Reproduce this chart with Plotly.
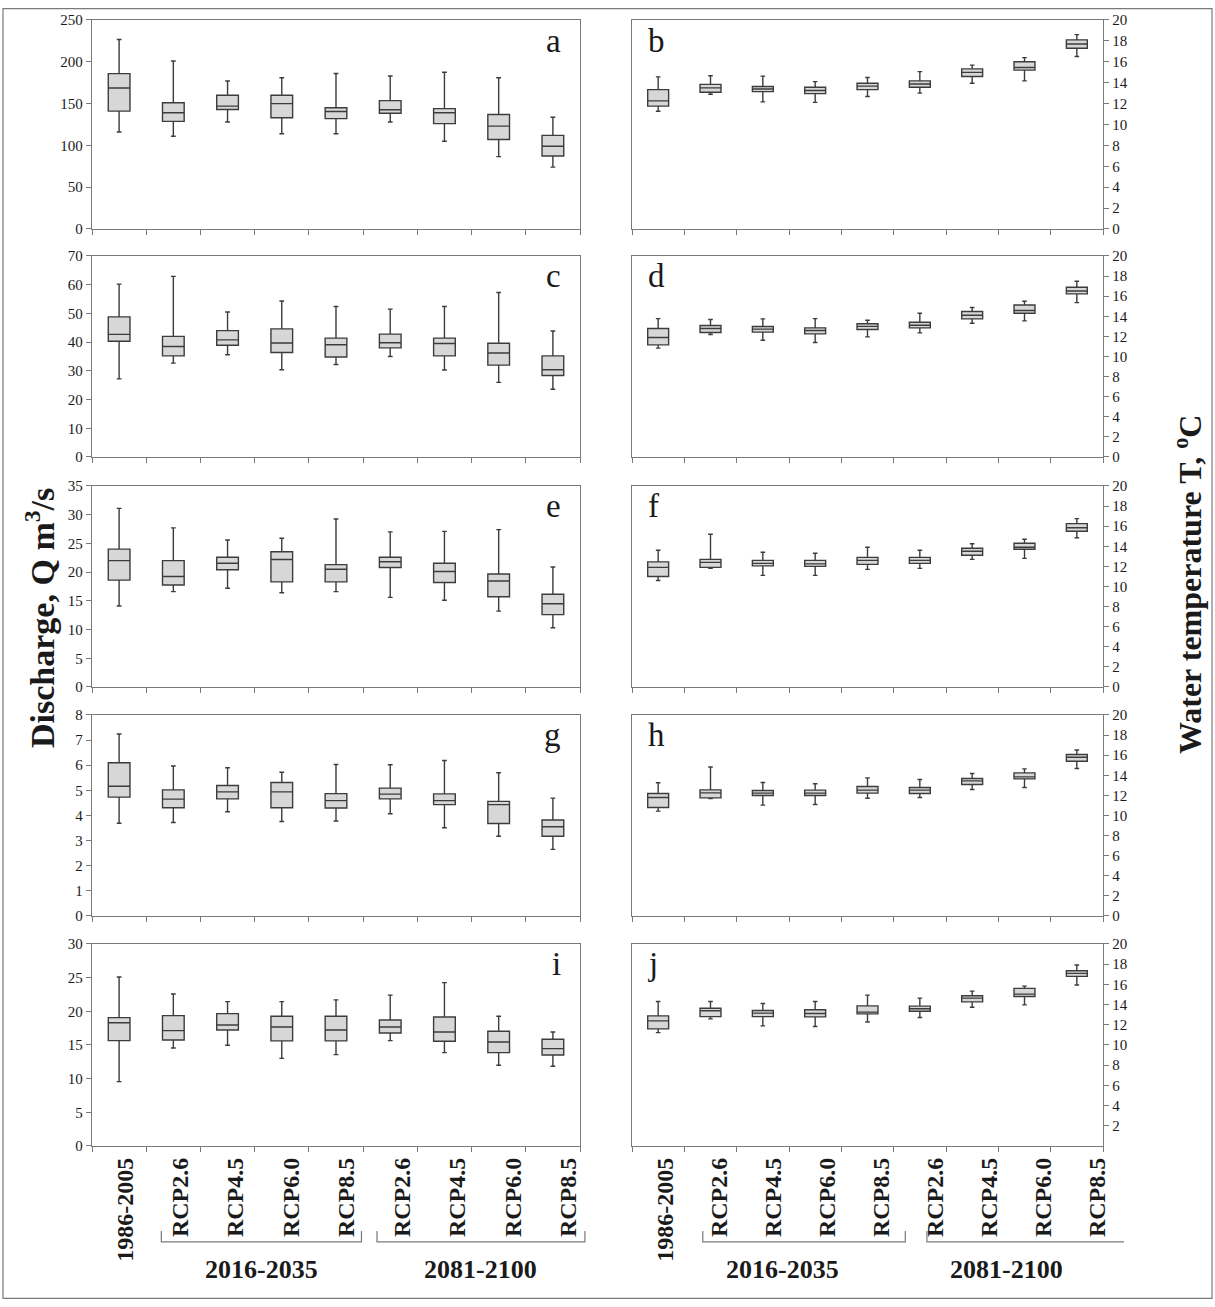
import plotly.graph_objects as go

SERIF = "Liberation Serif, Times New Roman, serif"
W, H = 1215, 1307

categories = ["1986-2005", "RCP2.6", "RCP4.5", "RCP6.0", "RCP8.5",
              "RCP2.6", "RCP4.5", "RCP6.0", "RCP8.5"]
periods = ["2016-2035", "2081-2100"]

# ---- discharge panels (left) ----
a_lo = [116, 111, 128, 114, 114, 128, 105, 86.6, 74]
a_q1 = [141, 128.7, 143, 133, 132, 138.5, 126, 107, 87.4]
a_md = [168.7, 139, 147, 150, 140.5, 142.6, 139, 123, 99]
a_q3 = [185.9, 151, 160, 160, 145, 153.6, 144, 137, 112]
a_hi = [226.7, 201, 177, 181, 186, 183, 187.5, 181, 133.6]

c_lo = [27.2, 32.7, 35.6, 30.4, 32.2, 35, 30.3, 26, 23.6]
c_q1 = [40.3, 35.2, 38.9, 36.4, 34.8, 38, 35.2, 32, 28.4]
c_md = [42.7, 38.5, 40.8, 39.7, 39.1, 39.8, 39.5, 36.2, 30.4]
c_q3 = [48.8, 42, 44, 44.6, 41.4, 42.8, 41.4, 39.6, 35.2]
c_hi = [60.2, 62.9, 50.5, 54.3, 52.4, 51.5, 52.4, 57.3, 43.9]

e_lo = [14.1, 16.6, 17.2, 16.4, 16.6, 15.6, 15.1, 13.2, 10.3]
e_q1 = [18.6, 17.76, 20.4, 18.3, 18.3, 20.8, 18.2, 15.7, 12.6]
e_md = [22, 19.25, 21.55, 22.2, 20.5, 21.8, 20.1, 18.45, 14.5]
e_q3 = [24, 22, 22.6, 23.56, 21.3, 22.6, 21.55, 19.66, 16.15]
e_hi = [31.1, 27.7, 25.6, 25.9, 29.25, 27, 27.1, 27.4, 20.9]

g_lo = [3.69, 3.72, 4.15, 3.76, 3.78, 4.07, 3.51, 3.17, 2.65]
g_q1 = [4.73, 4.31, 4.66, 4.31, 4.3, 4.66, 4.43, 3.68, 3.17]
g_md = [5.16, 4.65, 4.94, 4.94, 4.59, 4.85, 4.59, 4.43, 3.55]
g_q3 = [6.1, 5.02, 5.19, 5.31, 4.87, 5.09, 4.86, 4.56, 3.82]
g_hi = [7.24, 5.97, 5.9, 5.72, 6.03, 6.02, 6.19, 5.7, 4.69]

i_lo = [9.55, 14.55, 14.95, 13.0, 13.56, 15.64, 13.86, 11.98, 11.83]
i_q1 = [15.64, 15.74, 17.23, 15.6, 15.6, 16.78, 15.54, 13.86, 13.5]
i_md = [18.3, 17.13, 17.97, 17.67, 17.23, 17.67, 16.93, 15.45, 14.46]
i_q3 = [19.06, 19.36, 19.65, 19.26, 19.26, 18.7, 19.16, 17.03, 15.84]
i_hi = [25.1, 22.57, 21.44, 21.44, 21.7, 22.4, 24.26, 19.26, 16.93]

# ---- water temperature panels (right) ----
b_lo = [11.27, 12.9, 12.16, 12.12, 12.68, 13.0, 13.94, 14.17, 16.5]
b_q1 = [11.76, 13.08, 13.15, 12.95, 13.34, 13.57, 14.6, 15.2, 17.3]
b_md = [12.26, 13.5, 13.4, 13.25, 13.67, 13.87, 14.99, 15.45, 17.7]
b_q3 = [13.34, 13.84, 13.64, 13.57, 13.94, 14.17, 15.32, 16.0, 18.1]
b_hi = [14.56, 14.66, 14.63, 14.1, 14.5, 15.06, 15.68, 16.4, 18.6]

d_lo = [10.83, 12.19, 11.62, 11.39, 11.95, 12.35, 13.31, 13.54, 15.36]
d_q1 = [11.16, 12.38, 12.42, 12.25, 12.68, 12.85, 13.74, 14.3, 16.23]
d_md = [11.89, 12.78, 12.72, 12.58, 13.0, 13.11, 14.1, 14.57, 16.52]
d_q3 = [12.78, 13.08, 12.98, 12.85, 13.25, 13.41, 14.47, 15.13, 16.89]
d_hi = [13.77, 13.68, 13.74, 13.77, 13.6, 14.3, 14.87, 15.5, 17.48]

f_lo = [10.6, 11.8, 11.1, 11.1, 11.7, 11.8, 12.7, 12.8, 14.85]
f_q1 = [11.0, 11.9, 12.05, 12.0, 12.2, 12.3, 13.1, 13.7, 15.5]
f_md = [11.9, 12.4, 12.3, 12.25, 12.6, 12.6, 13.5, 13.9, 15.85]
f_q3 = [12.45, 12.7, 12.6, 12.6, 12.9, 12.9, 13.8, 14.3, 16.25]
f_hi = [13.6, 15.2, 13.4, 13.3, 13.9, 13.6, 14.25, 14.7, 16.75]

h_lo = [10.43, 11.69, 11.03, 11.09, 11.72, 11.79, 12.58, 12.78, 14.67]
h_q1 = [10.8, 11.75, 11.99, 11.99, 12.22, 12.19, 13.08, 13.64, 15.4]
h_md = [11.79, 12.25, 12.22, 12.22, 12.52, 12.52, 13.44, 13.84, 15.79]
h_q3 = [12.19, 12.55, 12.48, 12.52, 12.88, 12.78, 13.68, 14.24, 16.06]
h_hi = [13.25, 14.83, 13.28, 13.15, 13.74, 13.58, 14.17, 14.64, 16.52]

j_lo = [11.22, 12.58, 11.89, 11.82, 12.28, 12.72, 13.74, 13.97, 15.93]
j_q1 = [11.59, 12.81, 12.81, 12.78, 13.08, 13.34, 14.27, 14.8, 16.79]
j_md = [12.38, 13.38, 13.15, 13.11, 13.25, 13.58, 14.64, 15.03, 17.09]
j_q3 = [12.88, 13.64, 13.41, 13.48, 13.87, 13.84, 14.87, 15.6, 17.35]
j_hi = [14.3, 14.3, 14.1, 14.3, 14.93, 14.64, 15.33, 15.83, 17.91]

# y-axis ticks
ticks_a = [0, 50, 100, 150, 200, 250]
ticks_c = [0, 10, 20, 30, 40, 50, 60, 70]
ticks_e = [0, 5, 10, 15, 20, 25, 30, 35]
ticks_g = [0, 1, 2, 3, 4, 5, 6, 7, 8]
ticks_i = [0, 5, 10, 15, 20, 25, 30]
ticks_t = [0, 2, 4, 6, 8, 10, 12, 14, 16, 18, 20]
ticks_j = [2, 4, 6, 8, 10, 12, 14, 16, 18, 20]

panels = [
    ("a", 0, 0, a_lo, a_q1, a_md, a_q3, a_hi, ticks_a, 250),
    ("b", 0, 1, b_lo, b_q1, b_md, b_q3, b_hi, ticks_t, 20),
    ("c", 1, 0, c_lo, c_q1, c_md, c_q3, c_hi, ticks_c, 70),
    ("d", 1, 1, d_lo, d_q1, d_md, d_q3, d_hi, ticks_t, 20),
    ("e", 2, 0, e_lo, e_q1, e_md, e_q3, e_hi, ticks_e, 35),
    ("f", 2, 1, f_lo, f_q1, f_md, f_q3, f_hi, ticks_t, 20),
    ("g", 3, 0, g_lo, g_q1, g_md, g_q3, g_hi, ticks_g, 8),
    ("h", 3, 1, h_lo, h_q1, h_md, h_q3, h_hi, ticks_t, 20),
    ("i", 4, 0, i_lo, i_q1, i_md, i_q3, i_hi, ticks_i, 30),
    ("j", 4, 1, j_lo, j_q1, j_md, j_q3, j_hi, ticks_j, 20),
]

# ---- layout geometry (target pixel positions) ----
col_x = [(92, 580), (632, 1103)]
label_x = [(97, 596), (638, 1124)]          # category-label strip under each column
bracket_spans = [[(0.66, 4.27), (4.55, 8.3)], [(0.7, 4.45), (4.85, 8.6)]]
period_shift = [0.0, -0.4]
row_tops = [20, 256, 486, 715, 944]
row_bots = [229, 457, 687, 916, 1146]


def ypaper(p):
    """target pixel row -> paper fraction (compensates the capture's vertical inset)"""
    fig_px = (p - 8) / 0.9878
    return min(1.0, max(0.0, 1 - fig_px / H))


FRAME = "#7a7a7a"
BOXLINE = "#3c3c3c"
BOXFILL = "#d7d7d7"
TXT = "#1a1a1a"

fig = go.Figure()
layout = dict(
    width=W, height=H,
    margin=dict(l=0, r=0, t=0, b=0),
    paper_bgcolor="white", plot_bgcolor="rgba(0,0,0,0)",
    showlegend=False,
    font=dict(family=SERIF, color=TXT),
)
annotations = []
shapes = []
xs = list(range(len(categories)))

for letter, r, c, lo, q1, md, q3, hi, yt, ymax in panels:
    n = r * 2 + c + 1
    xa = "x" if n == 1 else f"x{n}"
    ya = "y" if n == 1 else f"y{n}"
    xkey = "xaxis" if n == 1 else f"xaxis{n}"
    ykey = "yaxis" if n == 1 else f"yaxis{n}"
    x0, x1 = col_x[c]
    fig.add_trace(go.Box(
        x=xs, q1=q1, median=md, q3=q3, lowerfence=lo, upperfence=hi,
        xaxis=xa, yaxis=ya, width=0.4, whiskerwidth=0.22,
        fillcolor=BOXFILL, line=dict(color=BOXLINE, width=1.4),
        boxpoints=False, hoverinfo="skip",
    ))
    layout[xkey] = dict(
        domain=[x0 / W, x1 / W], anchor=ya,
        range=[-0.5, len(categories) - 0.5],
        showline=True, mirror=True, linecolor=FRAME, linewidth=1.2,
        showgrid=False, zeroline=False,
        tickmode="array", tickvals=xs, ticks="", showticklabels=False,
        minor=dict(tickmode="array", tickvals=[k - 0.5 for k in range(len(categories) + 1)],
                   ticks="outside", ticklen=5, tickwidth=1, tickcolor=FRAME, showgrid=False),
    )
    layout[ykey] = dict(
        domain=[ypaper(row_bots[r]), ypaper(row_tops[r])], anchor=xa,
        range=[0, ymax], side="left" if c == 0 else "right",
        showline=True, mirror=True, linecolor=FRAME, linewidth=1.2,
        showgrid=False, zeroline=False,
        tickmode="array", tickvals=yt, ticks="outside", ticklen=5,
        tickwidth=1, tickcolor=FRAME,
        tickfont=dict(family=SERIF, size=15, color=TXT),
    )
    annotations.append(dict(
        text=letter, xref=f"{xa} domain", yref=f"{ya} domain",
        x=0.965 if c == 0 else 0.03, y=0.9, xanchor="right" if c == 0 else "left",
        yanchor="middle", showarrow=False,
        font=dict(family=SERIF, size=33, color=TXT),
    ))

# category label strips (own hidden subplots) + brackets + period labels
br_top = ypaper(1231)
br_bot = ypaper(1242)
bottom_dom = [ypaper(row_bots[4]), ypaper(row_tops[4])]
for c, lab_n in enumerate([11, 12]):
    lx0, lx1 = label_x[c]
    xa, ya = f"x{lab_n}", f"y{lab_n}"
    layout[f"xaxis{lab_n}"] = dict(
        domain=[lx0 / W, lx1 / W], anchor=ya,
        range=[-0.5, len(categories) - 0.5],
        showline=False, showgrid=False, zeroline=False,
        tickmode="array", tickvals=xs, ticktext=categories,
        ticks="", tickangle=-90, ticklabelstandoff=6,
        tickfont=dict(family=SERIF, size=24, color=TXT, weight="bold"),
    )
    layout[f"yaxis{lab_n}"] = dict(
        domain=bottom_dom, anchor=xa, range=[0, 1], visible=False,
        showgrid=False, zeroline=False,
    )
    fig.add_trace(go.Scatter(x=xs, y=[None] * len(xs), xaxis=xa, yaxis=ya,
                             mode="markers", marker=dict(opacity=0),
                             hoverinfo="skip", showlegend=False))
    for (s, e), label in zip(bracket_spans[c], periods):
        shapes.append(dict(
            type="path", xref=xa, yref="paper",
            path=f"M {s},{br_top} L {s},{br_bot} L {e},{br_bot} L {e},{br_top}",
            line=dict(color=FRAME, width=1.2),
        ))
        annotations.append(dict(
            text=f"<b>{label}</b>", xref=xa, yref="paper",
            x=(s + e) / 2 + period_shift[c], y=ypaper(1270),
            xanchor="center", yanchor="middle",
            showarrow=False, font=dict(family=SERIF, size=26, color=TXT),
        ))

# axis titles
annotations.append(dict(
    text="<b>Discharge, Q m<sup>3</sup>/s</b>", xref="paper", yref="paper",
    x=40 / W, y=ypaper(618), textangle=-90, showarrow=False,
    xanchor="center", yanchor="middle", font=dict(family=SERIF, size=34, color=TXT),
))
annotations.append(dict(
    text="<b>Water temperature T, <sup>o</sup>C</b>", xref="paper", yref="paper",
    x=1188 / W, y=ypaper(585), textangle=-90, showarrow=False,
    xanchor="center", yanchor="middle", font=dict(family=SERIF, size=32, color=TXT),
))

# outer frame
shapes.append(dict(type="rect", xref="paper", yref="paper",
                   x0=3 / W, x1=1 - 3 / W, y0=0.6 / H, y1=1 - 0.6 / H,
                   line=dict(color=FRAME, width=1.2)))

layout["annotations"] = annotations
layout["shapes"] = shapes
fig.update_layout(**layout)
fig.write_html(
    "out.html",
    config={"displayModeBar": False, "staticPlot": True},
    post_script=("document.documentElement.style.margin='0';"
                 "document.body.style.margin='0';"
                 "document.documentElement.style.overflow='hidden';"
                 "document.body.style.overflow='hidden';"
                 "var gd=document.getElementsByClassName('plotly-graph-div')[0];"
                 "gd.style.position='fixed';gd.style.top='0px';gd.style.left='0px';"),
)
